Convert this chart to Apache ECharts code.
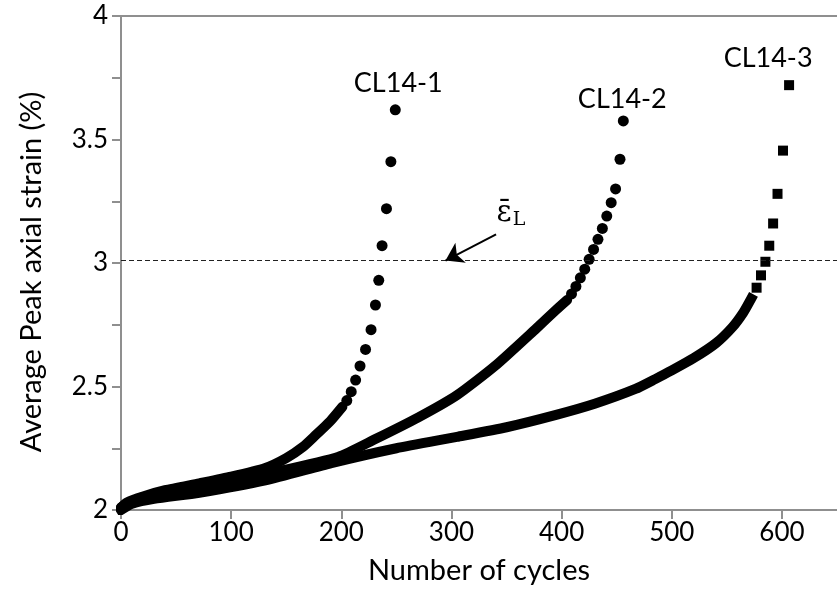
<!DOCTYPE html>
<html>
<head>
<meta charset="utf-8">
<script src="https://cdn.jsdelivr.net/npm/echarts@6/dist/echarts.min.js"></script>
<style>
  html, body { margin: 0; padding: 0; background: #fff; overflow: hidden; }
  #chart { width: 837px; height: 604px; }
</style>
</head>
<body>
<div id="chart"></div>
<script>
// Axis ticks
const xTicks = [0, 100, 200, 300, 400, 500, 600];
const yTicks = [2, 2.5, 3, 3.5, 4];

// Specimen names
const specimens = ['CL14-1', 'CL14-2', 'CL14-3'];

// Dense part of each record (cycles, average peak axial strain %)
const cl1Dense = [[0, 2.01], [5, 2.03], [20, 2.055], [40, 2.08], [71, 2.108], [100, 2.135], [131, 2.17], [150, 2.21], [165, 2.255], [176, 2.30], [190, 2.36], [201, 2.418]];
const cl2Dense = [[0, 2.01], [5, 2.025], [20, 2.045], [71, 2.085], [131, 2.145], [197, 2.215], [230, 2.285], [270, 2.375], [305, 2.465], [340, 2.585], [377, 2.735], [395, 2.81], [405, 2.85]];
const cl3Dense = [[0, 2.0], [10, 2.025], [30, 2.045], [71, 2.07], [131, 2.12], [191, 2.19], [250, 2.25], [305, 2.296], [350, 2.335], [395, 2.385], [430, 2.43], [467, 2.49], [485, 2.53], [500, 2.565], [520, 2.615], [540, 2.675], [555, 2.74], [565, 2.80], [572, 2.855]];

// Final cycles, where the readings separate
const cl1Tail = [[205, 2.443], [209, 2.479], [213, 2.526], [217, 2.583], [222, 2.65], [227, 2.73], [231, 2.83], [234, 2.93], [237, 3.07], [241, 3.22], [245, 3.41], [249, 3.62]];
const cl2Tail = [[409, 2.875], [413, 2.905], [417, 2.94], [421, 2.975], [425, 3.015], [429, 3.055], [433, 3.096], [437, 3.14], [441, 3.19], [445, 3.244], [449, 3.30], [453, 3.42], [456, 3.575]];
const cl3Tail = [[577, 2.90], [581, 2.95], [585, 3.005], [588.5, 3.07], [592, 3.16], [596, 3.28], [601, 3.455], [606.5, 3.72]];

// Limiting strain level
const limitStrain = 3.01;

const FONT = 'Lato';
const chart = echarts.init(document.getElementById('chart'), null, { renderer: 'canvas' });

function denseSeries(data, square) {
  return {
    type: 'line',
    data: data,
    xAxisIndex: 0,
    showSymbol: false,
    smooth: 0.2,
    silent: true,
    lineStyle: { color: '#000', width: 10, cap: square ? 'square' : 'round', join: 'round', opacity: 1 },
    z: 3
  };
}

function tailSeries(name, data, symbol, size, labelOffset) {
  const last = data.length - 1;
  return {
    type: 'scatter',
    name: name,
    data: data,
    symbol: symbol,
    symbolSize: size,
    itemStyle: { color: '#000', opacity: 1 },
    label: {
      show: true,
      position: 'inside',
      offset: labelOffset,
      formatter: p => (p.dataIndex === last ? name : ''),
      color: '#000',
      fontFamily: FONT,
      fontSize: 27
    },
    z: 4
  };
}

const option = {
  backgroundColor: '#fff',
  animation: false,
  grid: { left: 121, top: 16, width: 722, height: 494 },
  xAxis: [
    {
      type: 'value', min: 0, max: 650, interval: 100,
      name: 'Number of cycles', nameLocation: 'middle', nameGap: 46,
      nameTextStyle: { fontFamily: FONT, fontSize: 29, color: '#000' },
      axisLine: { lineStyle: { color: '#8f8f8f', width: 2 } },
      axisTick: { show: true, inside: false, length: 9, lineStyle: { color: '#8f8f8f', width: 2 } },
      axisLabel: { margin: 10, fontFamily: FONT, fontSize: 26, color: '#000', showMaxLabel: false,
        formatter: v => (xTicks.includes(v) ? String(v) : '') },
      splitLine: { show: false }
    },
    {
      type: 'value', min: 0, max: 650, position: 'top',
      axisLine: { show: true, lineStyle: { color: '#8f8f8f', width: 2 } },
      axisTick: { show: false }, axisLabel: { show: false }, splitLine: { show: false }
    }
  ],
  yAxis: {
    type: 'value', min: 2, max: 4, interval: 0.25,
    name: 'Average Peak axial strain (%)', nameLocation: 'middle', nameGap: 75,
    nameTextStyle: { fontFamily: FONT, fontSize: 29, color: '#000', padding: [0, 18, 0, 0] },
    axisLine: { show: true, lineStyle: { color: '#8f8f8f', width: 2 } },
    axisTick: { show: true, inside: false, length: 9, lineStyle: { color: '#8f8f8f', width: 2 } },
    axisLabel: { margin: 13, fontFamily: FONT, fontSize: 26, color: '#000',
      formatter: v => (yTicks.some(t => Math.abs(t - v) < 1e-9) ? String(v) : '') },
    splitLine: { show: false }
  },
  series: [
    denseSeries(cl1Dense, false),
    denseSeries(cl2Dense, false),
    denseSeries(cl3Dense, true),
    tailSeries(specimens[0], cl1Tail, 'circle', 11, [3, -27]),
    tailSeries(specimens[1], cl2Tail, 'circle', 11, [-1, -22]),
    tailSeries(specimens[2], cl3Tail, 'rect', 10, [-21, -27]),
    {
      // limit line, arrow and its symbol
      type: 'scatter',
      data: [],
      markLine: {
        silent: true,
        animation: false,
        label: { show: false },
        data: [
          [
            { xAxis: 0, yAxis: limitStrain, symbol: 'none' },
            { xAxis: 650, yAxis: limitStrain, symbol: 'none' }
          ],
          [
            { coord: [340.5, 3.116], symbol: 'none', lineStyle: { type: 'solid', width: 2, color: '#000' } },
            { coord: [294.6, limitStrain], symbol: 'arrow', symbolSize: 17 }
          ]
        ],
        lineStyle: { type: [5, 3], color: '#222', width: 1 }
      },
      markPoint: {
        silent: true,
        symbol: 'circle',
        symbolSize: 0,
        data: [{ coord: [354, 3.2] }],
        label: {
          show: true,
          position: 'inside',
          formatter: '{e|\u03B5\u0304}{l|L}',
          rich: {
            e: { fontFamily: 'DejaVu Serif', fontSize: 29, color: '#000' },
            l: { fontFamily: 'DejaVu Serif', fontSize: 19, color: '#000', padding: [12, 0, 0, 1] }
          }
        }
      }
    }
  ]
};

chart.setOption(option);
</script>
</body>
</html>
